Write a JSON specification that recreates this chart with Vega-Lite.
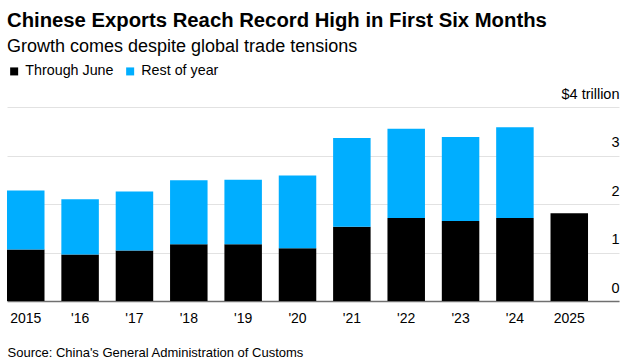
{
  "$schema": "https://vega.github.io/schema/vega-lite/v6.json",
  "width": 612,
  "height": 194,
  "autosize": {"type": "none"},
  "padding": {"left": 7, "top": 107, "right": 5, "bottom": 60},
  "background": "white",
  "title": {
    "text": "Chinese Exports Reach Record High in First Six Months",
    "subtitle": "Growth comes despite global trade tensions",
    "anchor": "start",
    "frame": "group",
    "offset": 8,
    "font": "Liberation Sans",
    "fontSize": 20.3,
    "fontWeight": "bold",
    "color": "#000000",
    "subtitleFont": "Liberation Sans",
    "subtitleFontSize": 18,
    "subtitleColor": "#000000",
    "subtitlePadding": 7
  },
  "data": {
    "values": [
      {"year": "2015", "segment": "Through June", "value": 1.06},
      {"year": "2015", "segment": "Rest of year", "value": 1.22},
      {"year": "2016", "segment": "Through June", "value": 0.96},
      {"year": "2016", "segment": "Rest of year", "value": 1.14},
      {"year": "2017", "segment": "Through June", "value": 1.04},
      {"year": "2017", "segment": "Rest of year", "value": 1.22},
      {"year": "2018", "segment": "Through June", "value": 1.17},
      {"year": "2018", "segment": "Rest of year", "value": 1.32},
      {"year": "2019", "segment": "Through June", "value": 1.17},
      {"year": "2019", "segment": "Rest of year", "value": 1.33},
      {"year": "2020", "segment": "Through June", "value": 1.09},
      {"year": "2020", "segment": "Rest of year", "value": 1.50},
      {"year": "2021", "segment": "Through June", "value": 1.53},
      {"year": "2021", "segment": "Rest of year", "value": 1.83},
      {"year": "2022", "segment": "Through June", "value": 1.71},
      {"year": "2022", "segment": "Rest of year", "value": 1.84},
      {"year": "2023", "segment": "Through June", "value": 1.65},
      {"year": "2023", "segment": "Rest of year", "value": 1.73},
      {"year": "2024", "segment": "Through June", "value": 1.71},
      {"year": "2024", "segment": "Rest of year", "value": 1.87},
      {"year": "2025", "segment": "Through June", "value": 1.81}
    ]
  },
  "mark": {"type": "bar"},
  "encoding": {
    "x": {
      "field": "year",
      "type": "ordinal",
      "scale": {"paddingInner": 0.31, "paddingOuter": 0.285, "align": 0},
      "axis": {
        "title": "Source: China's General Administration of Customs",
        "titleAnchor": "start",
        "titleAlign": "left",
        "titleFont": "Liberation Sans",
        "titleFontSize": 13,
        "titleFontWeight": "normal",
        "titleColor": "#000000",
        "titlePadding": 21,
        "labelAngle": 0,
        "labelFont": "Liberation Sans",
        "labelFontSize": 14,
        "labelColor": "#000000",
        "labelPadding": 10,
        "labelExpr": "datum.value == '2015' || datum.value == '2025' ? datum.value : \"'\" + slice(datum.value, 2)",
        "ticks": false,
        "tickSize": 0,
        "domainColor": "#707070",
        "domainWidth": 1.5
      }
    },
    "y": {
      "field": "value",
      "type": "quantitative",
      "stack": "zero",
      "scale": {"domain": [0, 4], "nice": false},
      "axis": {
        "orient": "right",
        "title": null,
        "values": [0, 1, 2, 3, 4],
        "labelExpr": "datum.value == 4 ? '$4 trillion' : datum.label",
        "labelAlign": "right",
        "labelBaseline": "alphabetic",
        "labelOffset": -9,
        "labelPadding": 0,
        "labelFlush": false,
        "labelOverlap": false,
        "labelFont": "Liberation Sans",
        "labelFontSize": 14.5,
        "labelColor": "#000000",
        "ticks": false,
        "tickSize": 0,
        "domain": false,
        "grid": true,
        "gridColor": "#e2e2e2",
        "gridWidth": 1
      }
    },
    "color": {
      "field": "segment",
      "type": "nominal",
      "scale": {"domain": ["Through June", "Rest of year"], "range": ["#000000", "#00AEFF"]},
      "legend": {
        "title": null,
        "orient": "none",
        "legendX": 0,
        "legendY": -43,
        "direction": "horizontal",
        "symbolType": "square",
        "symbolSize": 64,
        "symbolStrokeWidth": 0,
        "labelFont": "Liberation Sans",
        "labelFontSize": 14.3,
        "labelColor": "#000000",
        "labelOffset": 4,
        "columnPadding": 9
      }
    },
    "order": {"field": "segment", "sort": "descending"}
  },
  "config": {
    "view": {"stroke": null}
  }
}
